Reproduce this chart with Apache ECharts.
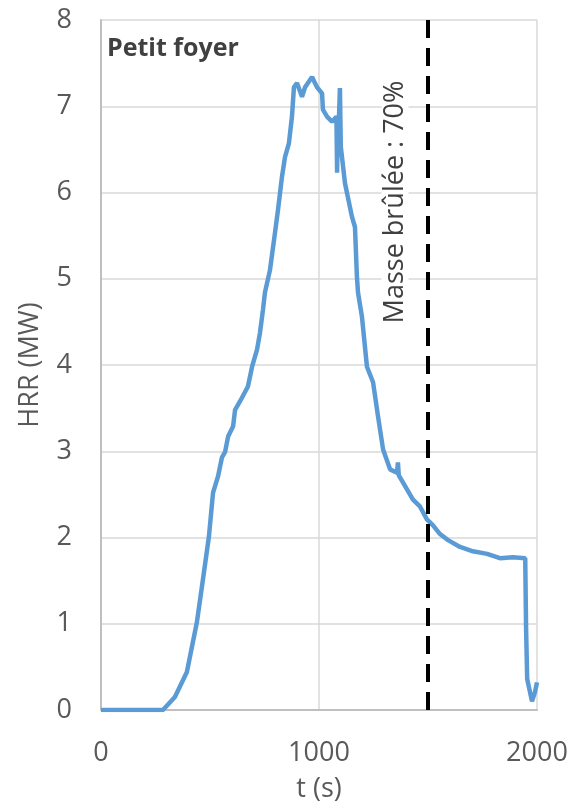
<!DOCTYPE html>
<html>
<head>
<meta charset="utf-8">
<script src="https://cdn.jsdelivr.net/npm/echarts@6/dist/echarts.min.js"></script>
<style>
html,body{margin:0;padding:0;background:#fff;}
#chart{width:574px;height:808px;}
</style>
</head>
<body>
<div id="chart"></div>
<script>
// ---- Data ----
const timeS = [0, 284, 339, 394, 440, 468, 495, 514, 537, 555, 569, 583, 606, 615, 638, 674, 693, 716, 729, 743, 752, 775, 798, 812, 830, 844, 862, 876, 885, 899, 922, 936, 968, 991, 1014, 1018, 1037, 1060, 1080, 1083, 1086, 1092, 1096, 1100, 1119, 1128, 1151, 1165, 1174, 1179, 1197, 1220, 1248, 1271, 1294, 1326, 1358, 1362, 1366, 1385, 1431, 1463, 1495, 1523, 1555, 1592, 1647, 1706, 1771, 1830, 1890, 1946, 1950, 1955, 1977, 1991, 2000];
const hrrMW = [0, 0, 0.15, 0.44, 1.02, 1.52, 2.01, 2.52, 2.71, 2.93, 2.99, 3.17, 3.29, 3.48, 3.58, 3.75, 3.98, 4.18, 4.37, 4.64, 4.84, 5.10, 5.53, 5.80, 6.18, 6.41, 6.57, 6.88, 7.22, 7.27, 7.11, 7.22, 7.34, 7.22, 7.15, 6.96, 6.88, 6.82, 6.88, 6.23, 6.85, 6.90, 7.21, 6.53, 6.11, 6.00, 5.72, 5.60, 5.02, 4.84, 4.56, 3.98, 3.80, 3.40, 3.02, 2.79, 2.75, 2.87, 2.72, 2.64, 2.44, 2.36, 2.21, 2.14, 2.04, 1.97, 1.89, 1.84, 1.81, 1.76, 1.77, 1.76, 0.94, 0.36, 0.10, 0.21, 0.32];
const burnedMarkT = [1500];
const burnedLabel = 'Masse brûlée : 70%';
const chartTitle = 'Petit foyer';
const xName = 't (s)';
const yName = 'HRR (MW)';

const FONT = '"Open Sans", sans-serif';
const chart = echarts.init(document.getElementById('chart'), null, {renderer: 'canvas'});
const seriesData = timeS.map((t, i) => [t, hrrMW[i]]);

chart.setOption({
  animation: false,
  backgroundColor: '#ffffff',
  grid: {left: 101, right: 37, top: 20, bottom: 97, containLabel: false},
  xAxis: {
    type: 'value', min: 0, max: 2000, interval: 1000,
    name: xName, nameLocation: 'middle', nameGap: 66,
    nameTextStyle: {fontFamily: FONT, fontSize: 27, color: '#595959'},
    axisLine: {show: true, lineStyle: {color: '#bfbfbf', width: 2}},
    axisTick: {show: false},
    axisLabel: {fontFamily: FONT, fontSize: 27, color: '#595959', margin: 30,
      formatter: v => String(v)},
    splitLine: {show: true, lineStyle: {color: '#d9d9d9', width: 1.5}}
  },
  yAxis: {
    type: 'value', min: 0, max: 8, interval: 1,
    name: yName, nameLocation: 'middle', nameGap: 57, nameRotate: 90,
    nameTextStyle: {fontFamily: FONT, fontSize: 27, color: '#595959'},
    axisLine: {show: true, lineStyle: {color: '#bfbfbf', width: 2}},
    axisTick: {show: false},
    axisLabel: {fontFamily: FONT, fontSize: 27, color: '#595959', margin: 29},
    splitLine: {show: true, lineStyle: {color: '#d9d9d9', width: 1.5}}
  },
  series: [{
    type: 'line',
    data: seriesData,
    showSymbol: false,
    symbol: 'none',
    lineStyle: {color: '#5b9bd5', width: 4.5},
    z: 3,
    markLine: {
      silent: true,
      symbol: 'none',
      label: {show: false},
      lineStyle: {color: '#000000', width: 4, type: [18, 10]},
      data: burnedMarkT.map(t => ({xAxis: t}))
    }
  }],
  graphic: [
    {
      type: 'text', left: 107, top: 36, z: 10,
      style: {text: chartTitle, fontFamily: FONT, fontSize: 25, fontWeight: 'bold', fill: '#404040'}
    },
    {
      type: 'text', x: 395, y: 202, rotation: Math.PI / 2, z: 10,
      style: {text: burnedLabel, fontFamily: FONT, fontSize: 27, fill: '#404040',
        align: 'center', verticalAlign: 'middle', backgroundColor: '#ffffff', padding: [0, 2]}
    }
  ]
});
</script>
</body>
</html>
